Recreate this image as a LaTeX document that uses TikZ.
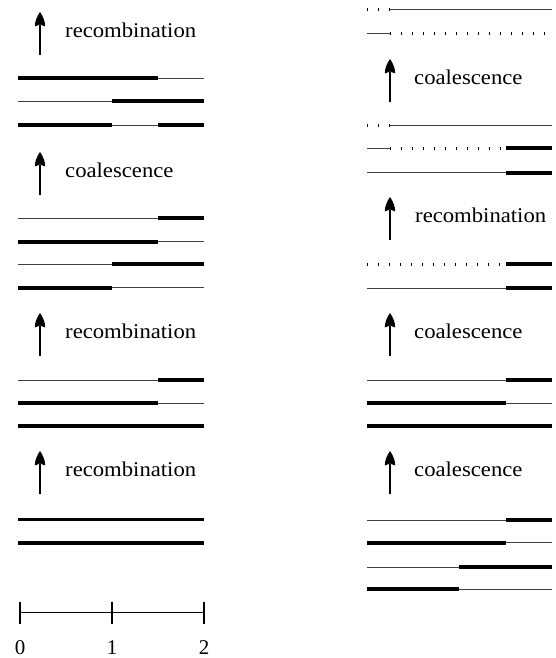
\documentclass[tikz,border=0pt]{standalone}
\usepackage{fontspec}
\setmainfont{Liberation Serif}
\tikzset{
  thinl/.style={line width=0.9pt, black!75},
  thickl/.style={line width=3.8pt, black},
  dotl/.style={line width=3pt, black, dash pattern=on 1.4pt off 9.6pt},
  uparr/.pic={
    \draw[line width=1.6pt] (0,0) -- (0,-30);
    \fill (0,-43) .. controls (2.8,-39) and (5.2,-34) .. (5.2,-28.5) -- (0,-30.5) -- (-5.2,-28.5) .. controls (-5.2,-34) and (-2.8,-39) .. (0,-43) -- cycle;
  },
  lab/.style={font=\fontsize{21}{25}\selectfont, anchor=base west, inner sep=0pt},
  num/.style={font=\fontsize{21}{25}\selectfont, anchor=base, inner sep=0pt},
  tick/.style={line width=1.2pt},
}
\newcommand{\lab}[3]{\node[lab] (#1) at #2 {\scalebox{1.08}[1]{#3}};}
\begin{document}
\begin{tikzpicture}[x=1pt,y=-1pt]
\useasboundingbox (0,0) rectangle (555,658);
% ---------------- left column ----------------
% group 1
\coordinate (a1) at (40,55); \pic at (a1) {uparr};
\lab{t1}{(65,37.7)}{recombination}
\draw[thickl] (18,78.3) -- (158,78.3); \draw[thinl] (158,78.3) -- (204,78.3);
\draw[thinl] (18,101) -- (112,101); \draw[thickl] (112,101) -- (204,101);
\draw[thickl] (18,125) -- (112,125); \draw[thinl] (112,125) -- (158,125); \draw[thickl] (158,125) -- (204,125);
% group 2
\coordinate (a2) at (40,195); \pic at (a2) {uparr};
\lab{t2}{(65,177)}{coalescence}
\draw[thinl] (18,218.3) -- (158,218.3); \draw[thickl] (158,218.3) -- (204,218.3);
\draw[thickl] (18,241.7) -- (158,241.7); \draw[thinl] (158,241.7) -- (204,241.7);
\draw[thinl] (18,264.3) -- (112,264.3); \draw[thickl] (112,264.3) -- (204,264.3);
\draw[thickl] (18,287.7) -- (112,287.7); \draw[thinl] (112,287.7) -- (204,287.7);
% group 3
\coordinate (a3) at (40,356); \pic at (a3) {uparr};
\lab{t3}{(65,338)}{recombination}
\draw[thinl] (18,380) -- (158,380); \draw[thickl] (158,380) -- (204,380);
\draw[thickl] (18,403) -- (158,403); \draw[thinl] (158,403) -- (204,403);
\draw[thickl] (18,426) -- (204,426);
% group 4
\coordinate (a4) at (40,494); \pic at (a4) {uparr};
\lab{t4}{(65,476)}{recombination}
\draw[thickl] (18,519.5) -- (204,519.5);
\draw[thickl] (18,543) -- (204,543);
% scale
\coordinate (s0) at (20,612.7); \coordinate (s1) at (112,612.7); \coordinate (s2) at (204,612.7);
\draw[line width=1pt] (s0) -- (s2);
\foreach \p in {s0,s1,s2} \draw[tick] ([yshift=11pt]\p) -- ([yshift=-11pt]\p);
\node[num] (n0) at (20,654) {0};
\node[num] (n1) at (112,654) {1};
\node[num] (n2) at (204,654) {2};
% ---------------- right column ----------------
\draw[dotl] (367,9.3) -- (390,9.3); \draw[thinl] (390,9.3) -- (552,9.3);
\draw[thinl] (367,33.3) -- (390,33.3); \draw[dotl] (390,33.3) -- (552,33.3);
\coordinate (b1) at (390,102); \pic at (b1) {uparr};
\lab{u1}{(414,85)}{coalescence}
\draw[dotl] (367,125.7) -- (390,125.7); \draw[thinl] (390,125.7) -- (552,125.7);
\draw[thinl] (367,148.3) -- (390,148.3); \draw[dotl] (390,148.3) -- (506,148.3); \draw[thickl] (506,148.3) -- (552,148.3);
\draw[thinl] (367,172.7) -- (506,172.7); \draw[thickl] (506,172.7) -- (552,172.7);
\coordinate (b2) at (390,240); \pic at (b2) {uparr};
\lab{u2}{(415,222.7)}{recombination}
\draw[dotl] (367,264.3) -- (506,264.3); \draw[thickl] (506,264.3) -- (552,264.3);
\draw[thinl] (367,288.3) -- (506,288.3); \draw[thickl] (506,288.3) -- (552,288.3);
\coordinate (b3) at (390,356); \pic at (b3) {uparr};
\lab{u3}{(414,338)}{coalescence}
\draw[thinl] (367,380) -- (506,380); \draw[thickl] (506,380) -- (552,380);
\draw[thickl] (367,403) -- (506,403); \draw[thinl] (506,403) -- (552,403);
\draw[thickl] (367,426) -- (552,426);
\coordinate (b4) at (390,494); \pic at (b4) {uparr};
\lab{u4}{(414,476)}{coalescence}
\draw[thinl] (367,520) -- (506,520); \draw[thickl] (506,520) -- (552,520);
\draw[thickl] (367,542.7) -- (506,542.7); \draw[thinl] (506,542.7) -- (552,542.7);
\draw[thinl] (367,567.3) -- (459,567.3); \draw[thickl] (459,567.3) -- (552,567.3);
\draw[thickl] (367,589) -- (459,589); \draw[thinl] (459,589) -- (552,589);
\end{tikzpicture}
\end{document}
